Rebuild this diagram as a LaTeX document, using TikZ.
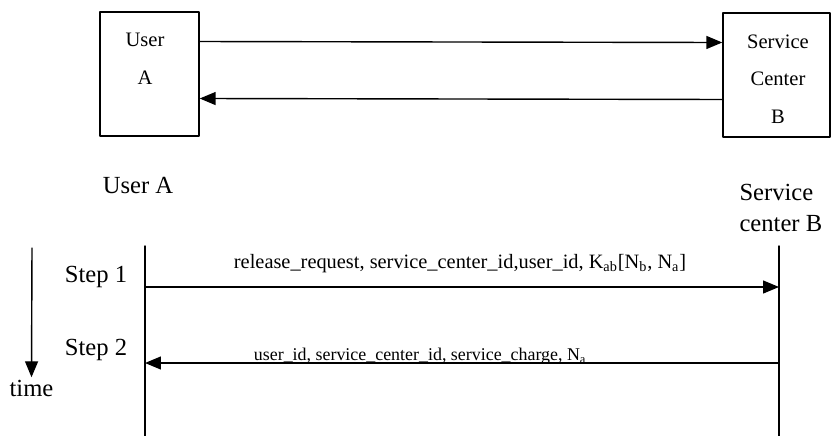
\documentclass[tikz,border=0pt]{standalone}
\usepackage{fontspec}
\setmainfont{Liberation Serif}
\usetikzlibrary{arrows.meta}

\begin{document}
\begin{tikzpicture}[line cap=round,line join=round,>={Triangle[length=3.2mm,width=2.6mm]},x=0.02cm,y=-0.02cm,
  line width=0.8pt,
  bigtxt/.style={font=\fontsize{14}{17.6}\selectfont},
  boxtxt/.style={font=\fontsize{11.7}{13}\selectfont},
  msgtxt/.style={font=\fontsize{11.6}{14}\selectfont,inner sep=0pt}]
\useasboundingbox (0,0) rectangle (832,436);
% the two parties
\node [draw,minimum width=1.98cm,minimum height=2.48cm] (boxa) at (149.5,74.) {};
\node [draw,minimum width=2.14cm,minimum height=2.48cm] (boxb) at (776.5,75.) {};
\node [boxtxt] (usr) at (145.,40.) {User};
\node [boxtxt] (usra) at (145.,78.) {A};
\node [boxtxt] (svc) at (778.,42.) {Service};
\node [boxtxt] (ctr) at (778.,79.) {Center};
\node [boxtxt] (ctrb) at (778.,117.) {B};
\draw [->] ([yshift=0.65cm]boxa.east) -- ([yshift=0.65cm]boxb.west);
\draw [->] ([yshift=-0.49cm]boxb.west) -- ([yshift=-0.49cm]boxa.east);
% sequence
\node [bigtxt] (usera) at (138.,185.) {User A};
\node [bigtxt,align=left,anchor=west] (svcb) at (733.,208.) {Service\\center B};
\coordinate (atop) at (145.,246.);
\coordinate (abot) at (145.,436.);
\coordinate (btop) at (779.,246.);
\coordinate (bbot) at (779.,436.);
\draw (atop) -- (abot);
\draw (btop) -- (bbot);
\coordinate (a1) at (145.,287.);
\coordinate (b1) at (779.,287.);
\coordinate (a2) at (145.,363.);
\coordinate (b2) at (779.,363.);
\draw [->] (a1) -- node [msgtxt,pos=0.497,anchor=base,yshift=0.38cm] (msg1) {release\_request, service\_center\_id,user\_id, K\textsubscript{ab}[N\textsubscript{b}, N\textsubscript{a}]} (b1);
\draw [->] (b2) -- node [msgtxt,pos=0.566,anchor=base,yshift=0.05cm,font=\fontsize{10.2}{13}\selectfont] (msg2) {user\_id, service\_center\_id, service\_charge, N\textsubscript{a}} (a2);
\node [bigtxt] (step1) at (96.,277.) {Step 1};
\node [bigtxt] (step2) at (96.,350.) {Step 2};
% time axis
\coordinate (tstart) at (32.,248.);
\node [bigtxt,inner sep=1pt] (timelbl) at (31.5,388.) {time};
\draw [->] (tstart) -- (timelbl.north);
\end{tikzpicture}
\end{document}
